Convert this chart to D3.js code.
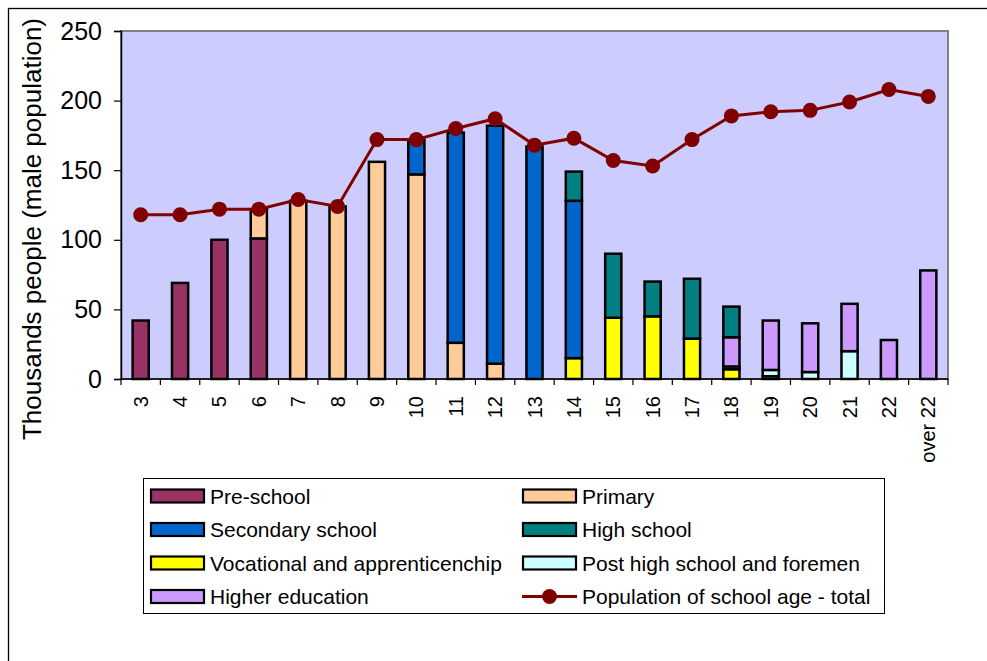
<!DOCTYPE html>
<html>
<head>
<meta charset="utf-8">
<script src="https://cdn.jsdelivr.net/npm/d3@7"></script>
<style>
  html, body { margin: 0; padding: 0; background: #fff; }
  svg { display: block; font-family: "Liberation Sans", Arial, sans-serif; }
</style>
</head>
<body>
<svg id="chart" width="987" height="661"></svg>
<script>
const categories = ["3","4","5","6","7","8","9","10","11","12","13","14","15","16","17","18","19","20","21","22","over 22"];
const preSchool   = [42, 69, 100, 101, 0, 0, 0, 0, 0, 0, 0, 0, 0, 0, 0, 0, 0, 0, 0, 0, 0];
const primary     = [0, 0, 0, 21, 128, 124, 156, 147, 26, 11, 0, 0, 0, 0, 0, 0, 0, 0, 0, 0, 0];
const secondary   = [0, 0, 0, 0, 0, 0, 0, 25, 151, 171, 167, 113, 0, 0, 0, 0, 0, 0, 0, 0, 0];
const highSchool  = [0, 0, 0, 0, 0, 0, 0, 0, 0, 0, 0, 21, 46, 25, 43, 22, 0, 0, 0, 0, 0];
const vocational  = [0, 0, 0, 0, 0, 0, 0, 0, 0, 0, 0, 15, 44, 45, 29, 7, 2, 0, 0, 0, 0];
const postHigh    = [0, 0, 0, 0, 0, 0, 0, 0, 0, 0, 0, 0, 0, 0, 0, 2, 4.5, 5, 20, 0, 0];
const higherEdu   = [0, 0, 0, 0, 0, 0, 0, 0, 0, 0, 0, 0, 0, 0, 0, 21, 35.5, 35, 34, 28, 78];
const totalPop    = [118, 118, 122, 122, 129, 124, 172, 172, 180, 187, 168, 173, 157, 153, 172, 189, 192, 193, 199, 208, 203];
const yTicks      = [0, 50, 100, 150, 200, 250];

const seriesNames = {
  pre: "Pre-school", pri: "Primary", sec: "Secondary school", hig: "High school",
  voc: "Vocational and apprenticenchip", pos: "Post high school and foremen",
  hed: "Higher education", tot: "Population of school age - total"
};
const colors = {
  pre: "#993366", pri: "#FFCC99", sec: "#0066CC", hig: "#008080",
  voc: "#FFFF00", pos: "#CCFFFF", hed: "#CC99FF", tot: "#800000"
};
// stacking order, bottom to top
const stackKeys = ["voc", "pos", "hed", "pre", "pri", "sec", "hig"];
const valuesByKey = { pre: preSchool, pri: primary, sec: secondary, hig: highSchool, voc: vocational, pos: postHigh, hed: higherEdu };

const table = categories.map((c, i) => {
  const row = { cat: c, total: totalPop[i] };
  stackKeys.forEach(k => row[k] = valuesByKey[k][i]);
  return row;
});

const svg = d3.select("#chart");
const plot = { left: 121, right: 948, top: 31, bottom: 379 };

// outer frame
svg.append("rect").attr("x", 8.5).attr("y", 8.5).attr("width", 1000).attr("height", 700)
  .attr("fill", "#fff").attr("stroke", "#000").attr("stroke-width", 1.3);

const x = d3.scaleBand().domain(categories).range([plot.left, plot.right])
  .paddingInner(0.59).paddingOuter(0.295);
const xCat = d3.scaleBand().domain(categories).range([plot.left, plot.right]).padding(0);
const y = d3.scaleLinear().domain([0, 250]).range([plot.bottom, plot.top]);

// plot background
svg.append("rect").attr("x", plot.left).attr("y", plot.top)
  .attr("width", plot.right - plot.left).attr("height", plot.bottom - plot.top)
  .attr("fill", "#CCCCFF").attr("stroke", "#808080").attr("stroke-width", 2);

// bars
const stacked = d3.stack().keys(stackKeys)(table);
const gBars = svg.append("g");
stacked.forEach(layer => {
  gBars.append("g").selectAll("rect")
    .data(layer.filter(d => d[1] - d[0] > 0))
    .join("rect")
    .attr("x", d => x(d.data.cat))
    .attr("width", x.bandwidth())
    .attr("y", d => y(d[1]))
    .attr("height", d => y(d[0]) - y(d[1]))
    .attr("fill", colors[layer.key])
    .attr("stroke", "#000")
    .attr("stroke-width", 2.5);
});

// Y axis
const yAxis = d3.axisLeft(y).tickValues(yTicks).tickSize(7).tickPadding(12);
const gy = svg.append("g").attr("transform", `translate(${plot.left},0)`).call(yAxis);
gy.select(".domain").attr("stroke", "#000").attr("stroke-width", 1.5);
gy.selectAll(".tick line").attr("stroke", "#000").attr("stroke-width", 1.2);
gy.selectAll(".tick text").attr("font-size", 25).attr("fill", "#000")
  .attr("font-family", "Liberation Sans, Arial, sans-serif");

// X axis: ticks at category boundaries
const gx = svg.append("g").attr("transform", `translate(0,${plot.bottom})`);
gx.append("line").attr("x1", plot.left).attr("x2", plot.right).attr("y1", 0).attr("y2", 0)
  .attr("stroke", "#000").attr("stroke-width", 1.5);
const boundaries = categories.map(c => xCat(c)).concat([plot.right]);
gx.selectAll("line.tk").data(boundaries).join("line").attr("class", "tk")
  .attr("x1", d => d).attr("x2", d => d).attr("y1", 0).attr("y2", 6)
  .attr("stroke", "#000").attr("stroke-width", 1.2);
gx.selectAll("text").data(categories).join("text")
  .attr("transform", d => `translate(${xCat(d) + xCat.bandwidth() / 2},${17}) rotate(-90)`)
  .attr("text-anchor", "end")
  .attr("dy", "0.35em")
  .attr("font-size", 20)
  .attr("fill", "#000")
  .text(d => d);

// Y axis title
svg.append("text")
  .attr("transform", `translate(41,${(plot.top + plot.bottom) / 2 + 24}) rotate(-90)`)
  .attr("text-anchor", "middle")
  .attr("font-size", 26)
  .attr("fill", "#000")
  .text("Thousands people (male population)");

// total line
const line = d3.line().x(d => xCat(d.cat) + xCat.bandwidth() / 2).y(d => y(d.total));
svg.append("path").datum(table).attr("d", line)
  .attr("fill", "none").attr("stroke", colors.tot).attr("stroke-width", 3);
svg.append("g").selectAll("circle").data(table).join("circle")
  .attr("cx", d => xCat(d.cat) + xCat.bandwidth() / 2)
  .attr("cy", d => y(d.total))
  .attr("r", 7.5)
  .attr("fill", colors.tot);

// legend
const legend = svg.append("g");
legend.append("rect").attr("x", 143.5).attr("y", 478.5).attr("width", 741).attr("height", 135)
  .attr("fill", "#fff").attr("stroke", "#000").attr("stroke-width", 1);
const legendItems = [
  { key: "pre", col: 0, row: 0 }, { key: "pri", col: 1, row: 0 },
  { key: "sec", col: 0, row: 1 }, { key: "hig", col: 1, row: 1 },
  { key: "voc", col: 0, row: 2 }, { key: "pos", col: 1, row: 2 },
  { key: "hed", col: 0, row: 3 }, { key: "tot", col: 1, row: 3 }
];
const colX = [150, 522];
const rowY = [496, 529.5, 563, 596.5];
legendItems.forEach(it => {
  const gx0 = colX[it.col], cy = rowY[it.row];
  if (it.key === "tot") {
    legend.append("line").attr("x1", gx0).attr("x2", gx0 + 55).attr("y1", cy).attr("y2", cy)
      .attr("stroke", colors.tot).attr("stroke-width", 3);
    legend.append("circle").attr("cx", gx0 + 27.5).attr("cy", cy).attr("r", 7.5).attr("fill", colors.tot);
  } else {
    legend.append("rect").attr("x", gx0 + 1).attr("y", cy - 6.5).attr("width", 53).attr("height", 13)
      .attr("fill", colors[it.key]).attr("stroke", "#000").attr("stroke-width", 2.2);
  }
  legend.append("text").attr("x", gx0 + 60).attr("y", cy).attr("dy", "0.36em")
    .attr("font-size", 21).attr("fill", "#000").text(seriesNames[it.key]);
});
</script>
</body>
</html>
